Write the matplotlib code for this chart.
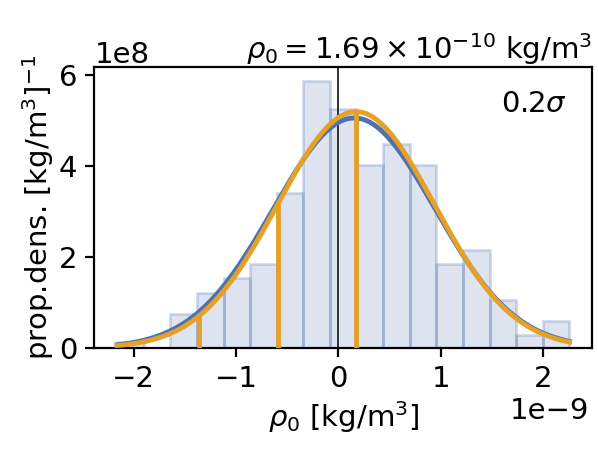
import numpy as np
import matplotlib
matplotlib.use("Agg")
import matplotlib.pyplot as plt

# histogram (density), values
bin_lo = -2.162e-9
bin_hi = 2.257e-9
heights = [0.13, 0.0, 0.74, 1.22, 1.54, 1.84, 3.41, 5.88, 5.26,
           4.02, 4.48, 4.02, 1.84, 2.16, 1.06, 0.29, 0.59]  # x 1e8

# gaussian fits (mean, std) in kg/m^3
blue_mu, blue_sigma = 0.155e-9, 0.788e-9
orange_mu, orange_sigma = 0.172e-9, 0.767e-9
# orange markers at mu-2sigma, mu-sigma, mu
orange_marks = [-1.358e-9, -0.594e-9, 0.172e-9]

title_txt = r"$\rho_0 = 1.69 \times 10^{-10}$ kg/m$^3$"
corner_txt = r"0.2$\sigma$"

blue = "#4C72B0"
orange = "#E5A028"
fs = 21

plt.rcParams["font.size"] = fs
plt.rcParams["axes.linewidth"] = 1.6
plt.rcParams["xtick.major.width"] = 1.6
plt.rcParams["ytick.major.width"] = 1.6
plt.rcParams["xtick.major.size"] = 6.5
plt.rcParams["ytick.major.size"] = 6.5
plt.rcParams["xtick.major.pad"] = 6
plt.rcParams["ytick.major.pad"] = 6

fig = plt.figure(figsize=(5.98, 4.59), dpi=100)
ax = fig.add_axes([0.158, 0.242, 0.832, 0.611])


def gauss(x, mu, sigma):
    return np.exp(-0.5 * ((x - mu) / sigma) ** 2) / (sigma * np.sqrt(2 * np.pi))


edges = np.linspace(bin_lo, bin_hi, len(heights) + 1)
dens = np.array(heights) * 1e8
ax.bar(edges[:-1], dens, width=np.diff(edges), align="edge",
       facecolor=matplotlib.colors.to_rgba(blue, 0.19),
       edgecolor=matplotlib.colors.to_rgba(blue, 0.26), linewidth=2, zorder=1)

ax.axvline(0, color="#222222", lw=1.3, zorder=2)

xs = np.linspace(bin_lo, bin_hi, 400)
ax.plot(xs, gauss(xs, blue_mu, blue_sigma), color=blue, lw=3.5, zorder=3)
ax.plot(xs, gauss(xs, orange_mu, orange_sigma), color=orange, lw=3.5, zorder=4)
marks = np.array(orange_marks)
ax.vlines(marks, 0, gauss(marks, orange_mu, orange_sigma), color=orange, lw=3.5, zorder=4)

ax.set_title(title_txt, loc="right", fontsize=fs)
ax.text(0.95, 0.92, corner_txt, transform=ax.transAxes, ha="right", va="top", fontsize=fs)
ax.set_xlabel(r"$\rho_0$ [kg/m$^3$]", labelpad=4)
ax.set_ylabel(r"prop.dens. [kg/m$^3$]$^{-1}$", labelpad=2)
ax.set_yticks([0, 2e8, 4e8, 6e8])
ax.xaxis.get_offset_text().set_x(0.995)

fig.savefig("out.png", dpi=100)
